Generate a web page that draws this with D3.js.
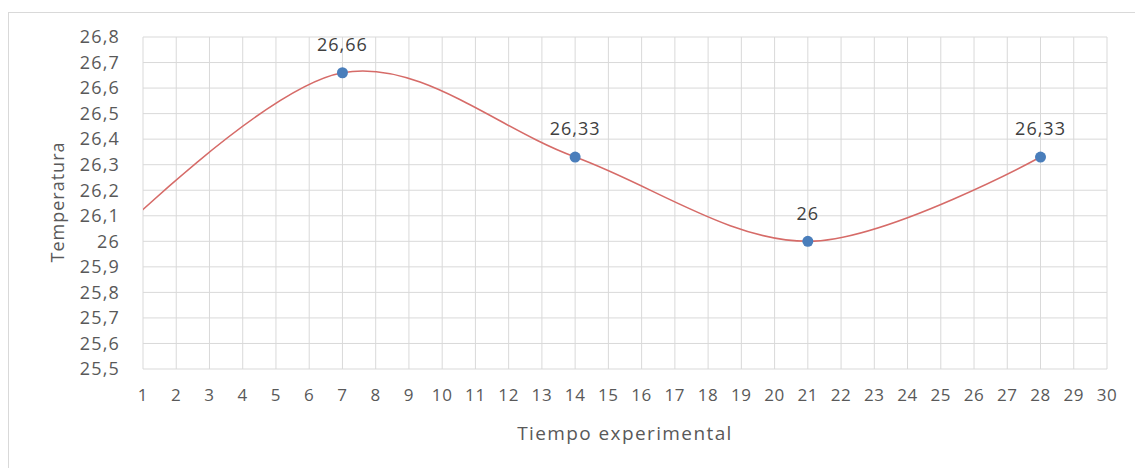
<!DOCTYPE html>
<html><head><meta charset="utf-8">
<script src="https://cdn.jsdelivr.net/npm/d3@7"></script>
<style>body{margin:0;background:#fff;} text{font-family:"Open Sans","Noto Sans",sans-serif;}</style>
</head><body><svg id="c" width="1135" height="468"></svg>
<script>
const days = [0, 7, 14, 21, 28];
const temps = [26.0, 26.66, 26.33, 26.0, 26.33];
const labeledDays = [7, 14, 21, 28];
const labelTexts = ["26,66", "26,33", "26", "26,33"];
const xTicks = d3.range(1, 31);
const yTicks = d3.range(0, 14).map(i => +(25.5 + i * 0.1).toFixed(1));

const svg = d3.select("#c");
const L = 143, R = 1107, T = 37, B = 369;
const x = d3.scaleLinear().domain([1, 30]).range([L, R]);
const y = d3.scaleLinear().domain([25.5, 26.8]).range([B, T]);

svg.append("rect").attr("x", 8.5).attr("y", 12.5).attr("width", 1200).attr("height", 600)
  .attr("fill", "none").attr("stroke", "#d9d9d9");

// grid
svg.append("g").selectAll("line").data(xTicks).join("line")
  .attr("x1", d => x(d)).attr("x2", d => x(d)).attr("y1", T).attr("y2", B)
  .attr("stroke", "#d9d9d9").attr("stroke-width", 1);
svg.append("g").selectAll("line").data(yTicks).join("line")
  .attr("x1", L).attr("x2", R).attr("y1", d => y(d)).attr("y2", d => y(d))
  .attr("stroke", "#d9d9d9").attr("stroke-width", 1);

// axes labels
const fmt = d => String(d).replace(".", ",");
svg.append("g").selectAll("text").data(yTicks).join("text")
  .attr("x", 120).attr("y", d => y(d)).attr("dy", "0.35em").attr("text-anchor", "end")
  .attr("font-size", 18).attr("letter-spacing", 1.2).attr("fill", "#595959").text(fmt);
svg.append("g").selectAll("text").data(xTicks).join("text")
  .attr("x", d => x(d)).attr("y", 395).attr("dy", "0.35em").attr("text-anchor", "middle")
  .attr("font-size", 17).attr("letter-spacing", 0.6).attr("fill", "#595959").text(d => d);

svg.append("text").attr("x", 625).attr("y", 433).attr("dy", "0.35em").attr("text-anchor", "middle")
  .attr("font-size", 19).attr("letter-spacing", 1.4).attr("fill", "#595959").text("Tiempo experimental");
svg.append("text").attr("transform", "translate(58,202) rotate(-90)").attr("dy", "0.35em")
  .attr("text-anchor", "middle").attr("font-size", 18).attr("letter-spacing", 1).attr("fill", "#595959").text("Temperatura");

// clipped smooth line
svg.append("clipPath").attr("id", "clip").append("rect")
  .attr("x", L).attr("y", T - 20).attr("width", R - L).attr("height", B - T + 40);
const pts = days.map((d, i) => [d, temps[i]]);
svg.append("path").datum(pts).attr("clip-path", "url(#clip)")
  .attr("d", d3.line().x(d => x(d[0])).y(d => y(d[1])).curve(d3.curveCardinal.tension(0)))
  .attr("fill", "none").attr("stroke", "#d66b68").attr("stroke-width", 1.6);

const lab = labeledDays.map((d, i) => ({d, v: temps[days.indexOf(d)], t: labelTexts[i]}));
svg.append("g").selectAll("circle").data(lab).join("circle")
  .attr("cx", p => x(p.d)).attr("cy", p => y(p.v)).attr("r", 5.5).attr("fill", "#4a7ebb");
svg.append("g").selectAll("text").data(lab).join("text")
  .attr("x", p => x(p.d)).attr("y", p => y(p.v) - 28).attr("dy", "0.35em").attr("text-anchor", "middle")
  .attr("font-size", 18).attr("letter-spacing", 1).attr("fill", "#404040").text(p => p.t);
</script></body></html>
